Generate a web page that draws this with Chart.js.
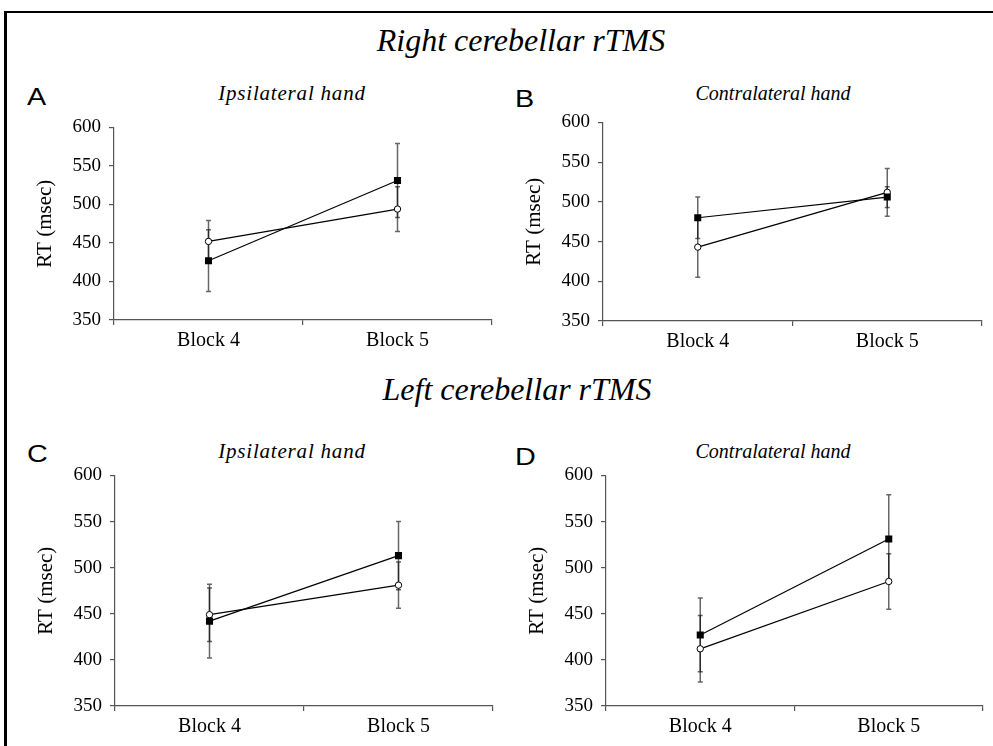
<!DOCTYPE html>
<html>
<head>
<meta charset="utf-8">
<script src="https://cdn.jsdelivr.net/npm/chart.js@4.4.1/dist/chart.umd.min.js"></script>
<style>
  html, body { margin: 0; padding: 0; background: #fff; overflow: hidden; }
  body { width: 993px; height: 746px; position: relative; }
  .frame { position: absolute; left: 4px; top: 11px; width: 986px; height: 735px;
           border-top: 2px solid #000; border-left: 3px solid #000; }
  .txt { position: absolute; white-space: nowrap; color: #000; }
  .main { font: italic 32px 'Liberation Serif', serif; line-height: 32px; transform: translateX(-50%); }
  .sub  { font: italic 20px 'Liberation Serif', serif; line-height: 20px; transform: translateX(-50%); }
  .ipsi { font-size: 21px; letter-spacing: 0.8px; }
  .letter { font: 23px 'Liberation Sans', Arial, sans-serif; line-height: 23px;
            transform: scaleX(1.25); transform-origin: left top; }
  canvas { position: absolute; }
</style>
</head>
<body>
<div class="frame"></div>

<div class="txt main" style="left:521px; top:24px;">Right cerebellar rTMS</div>
<div class="txt main" style="left:517px; top:373px;">Left cerebellar rTMS</div>

<div class="txt letter" style="left:27px; top:86px;">A</div>
<div class="txt letter" style="left:515px; top:88px;">B</div>
<div class="txt letter" style="left:27px; top:443px;">C</div>
<div class="txt letter" style="left:515px; top:446px;">D</div>

<div class="txt sub ipsi" style="left:292px; top:83px;">Ipsilateral hand</div>
<div class="txt sub" style="left:773px; top:83px;">Contralateral hand</div>
<div class="txt sub ipsi" style="left:292px; top:441px;">Ipsilateral hand</div>
<div class="txt sub" style="left:773px; top:441px;">Contralateral hand</div>

<canvas id="chartA"></canvas>
<canvas id="chartB"></canvas>
<canvas id="chartC"></canvas>
<canvas id="chartD"></canvas>

<script>
// ── Data ─────────────────────────────────────
const blocks = ['Block 4', 'Block 5'];
const yTicks = [350, 400, 450, 500, 550, 600];

// filled squares / open circles, with error bar half-widths
const aSquare = [427, 531], aSquareErr = [40, 48];
const aCircle = [452, 494], aCircleErr = [27, 29];

const bSquare = [480, 506], bSquareErr = [26, 13];
const bCircle = [443, 512], bCircleErr = [38, 30];

const cSquare = [442, 513], cSquareErr = [40, 37];
const cCircle = [449, 481], cCircleErr = [29, 25];

const dSquare = [427, 531], dSquareErr = [40, 48];
const dCircle = [412, 485], dCircleErr = [36, 30];

// ── Styles ───────────────────────────────────
const SERIF = "'Liberation Serif', 'Times New Roman', serif";
const AXIS = '#555';

// error bars drawn under the markers, through the chart's own scales
const errorBars = {
  id: 'errorBars',
  beforeDatasetsDraw(chart) {
    const { ctx, scales: { x, y } } = chart;
    ctx.save();
    ctx.strokeStyle = 'rgba(0,0,0,0.6)';
    ctx.lineWidth = 1.5;
    chart.data.datasets.forEach((ds) => {
      ds.data.forEach((v, i) => {
        const e = ds.errors[i];
        const px = x.getPixelForValue(i);
        const top = y.getPixelForValue(v + e);
        const bot = y.getPixelForValue(v - e);
        ctx.beginPath();
        ctx.moveTo(px, top); ctx.lineTo(px, bot);
        ctx.moveTo(px - 2.5, top); ctx.lineTo(px + 2.5, top);
        ctx.moveTo(px - 2.5, bot); ctx.lineTo(px + 2.5, bot);
        ctx.stroke();
      });
    });
    ctx.restore();
  },
};

// box = chart area edges in page pixels
const makePanel = (id, box, sq, sqErr, ci, ciErr) => {
  const yW = 94, xH = 45, padT = 10, padR = 8;
  const el = document.getElementById(id);
  el.width = box.right - box.left + yW + padR;
  el.height = box.bottom - box.top + padT + xH;
  el.style.left = (box.left - yW) + 'px';
  el.style.top = (box.top - padT) + 'px';

  new Chart(el, {
    type: 'line',
    data: {
      labels: blocks,
      datasets: [
        {
          data: sq, errors: sqErr,
          borderColor: '#000', borderWidth: 1.2,
          pointStyle: 'rect', pointRadius: 5,
          pointBackgroundColor: '#000', pointBorderColor: '#000', pointBorderWidth: 0,
          tension: 0,
        },
        {
          data: ci, errors: ciErr,
          borderColor: '#000', borderWidth: 1.2,
          pointStyle: 'circle', pointRadius: 3.2,
          pointBackgroundColor: '#fff', pointBorderColor: '#000', pointBorderWidth: 1,
          tension: 0,
        },
      ],
    },
    options: {
      responsive: false,
      animation: false,
      devicePixelRatio: 1,
      layout: { padding: { top: padT, right: padR, left: 0, bottom: 0 } },
      plugins: { legend: { display: false }, tooltip: { enabled: false } },
      scales: {
        x: {
          offset: true,
          grid: { offset: true, drawOnChartArea: false, tickLength: 5, color: AXIS, lineWidth: 1.2 },
          border: { color: AXIS, width: 1.2 },
          ticks: { color: '#000', font: { family: SERIF, size: 20 }, padding: 4, maxRotation: 0 },
          afterFit: (s) => { s.height = xH; },
        },
        y: {
          min: 350, max: 600,
          afterBuildTicks: (s) => { s.ticks = yTicks.map(v => ({ value: v })); },
          grid: { drawOnChartArea: false, tickLength: 5, color: AXIS, lineWidth: 1.2 },
          border: { color: AXIS, width: 1.2 },
          ticks: { color: '#000', font: { family: SERIF, size: 19 }, padding: 8 },
          title: { display: true, text: 'RT (msec)', color: '#000', font: { family: SERIF, size: 21 }, padding: { top: 13, bottom: 0 } },
          afterFit: (s) => { s.width = yW; },
        },
      },
    },
    plugins: [errorBars],
  });
};

makePanel('chartA', { left: 114, top: 118, right: 492, bottom: 320 }, aSquare, aSquareErr, aCircle, aCircleErr);
makePanel('chartB', { left: 603, top: 113, right: 982, bottom: 321 }, bSquare, bSquareErr, bCircle, bCircleErr);
makePanel('chartC', { left: 115, top: 466, right: 493, bottom: 706 }, cSquare, cSquareErr, cCircle, cCircleErr);
makePanel('chartD', { left: 606, top: 466, right: 983, bottom: 706 }, dSquare, dSquareErr, dCircle, dCircleErr);
</script>
</body>
</html>
